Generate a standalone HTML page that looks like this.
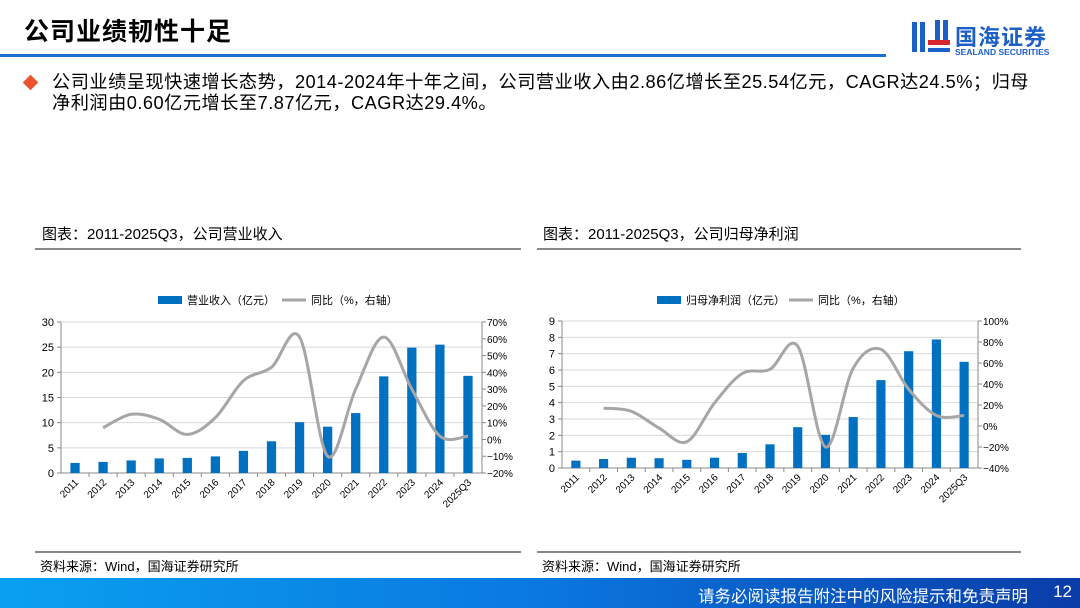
<!DOCTYPE html>
<html><head><meta charset="utf-8">
<style>
*{margin:0;padding:0;box-sizing:border-box}
body{width:1080px;height:608px;position:relative;background:#fff;font-family:"Liberation Sans","Noto Sans CJK SC",sans-serif;overflow:hidden;color:#000}
.abs{position:absolute}
</style></head><body>
<div class="abs" style="left:24px;top:12px;font-size:25px;font-weight:bold;letter-spacing:1px">公司业绩韧性十足</div>
<div class="abs" style="left:0;top:54px;width:886px;height:3px;background:#1a6fd0"></div>
<div class="abs" style="left:910px;top:18px;width:160px;height:42px">
 <svg width="40" height="40" style="position:absolute;left:0;top:0">
  <rect x="2" y="4" width="5" height="30" fill="#1c5fc8"/><rect x="10" y="4" width="5" height="30" fill="#1c5fc8"/>
  <rect x="25" y="2" width="5" height="20" fill="#1c5fc8"/><rect x="33" y="2" width="5" height="20" fill="#1c5fc8"/>
  <rect x="18" y="22" width="22" height="5" fill="#d9262c"/><rect x="18" y="30" width="22" height="4" fill="#1c5fc8"/>
 </svg>
 <div class="abs" style="left:45px;top:2px;font-size:22px;font-weight:bold;color:#1c5fc8;letter-spacing:1px">国海证券</div>
 <div class="abs" style="left:45px;top:29px;font-size:8.5px;font-weight:bold;color:#1c5fc8;white-space:nowrap">SEALAND SECURITIES</div>
</div>
<div class="abs" style="left:25px;top:77px;width:11px;height:11px;background:#e8542b;transform:rotate(45deg)"></div>
<div class="abs" style="left:52px;top:72px;width:1020px;font-size:18.2px;line-height:21px;letter-spacing:0.5px;white-space:nowrap">公司业绩呈现快速增长态势，2014-2024年十年之间，公司营业收入由2.86亿增长至25.54亿元，CAGR达24.5%；归母<br>净利润由0.60亿元增长至7.87亿元，CAGR达29.4%。</div>

<div class="abs" style="left:42px;top:223px;font-size:15px">图表：2011-2025Q3，公司营业收入</div>
<div class="abs" style="left:35px;top:248px;width:486px;height:2px;background:#888"></div>
<div class="abs" style="left:543px;top:223px;font-size:15px">图表：2011-2025Q3，公司归母净利润</div>
<div class="abs" style="left:537px;top:248px;width:484px;height:2px;background:#888"></div>

<svg id="c1" class="abs" style="left:0;top:0" width="1080" height="608"></svg>
<svg id="c2" class="abs" style="left:0;top:0" width="1080" height="608"></svg>

<div class="abs" style="left:35px;top:551px;width:486px;height:2px;background:#888"></div>
<div class="abs" style="left:537px;top:551px;width:484px;height:2px;background:#888"></div>
<div class="abs" style="left:40px;top:556px;font-size:13px">资料来源：Wind，国海证券研究所</div>
<div class="abs" style="left:542px;top:556px;font-size:13px">资料来源：Wind，国海证券研究所</div>

<div class="abs" style="left:0;top:578px;width:1080px;height:30px;background:linear-gradient(90deg,#0aa0f0 0%,#0a78e0 50%,#0a3ca8 100%)">
 <div class="abs" style="right:52px;top:5px;color:#fff;font-size:16.5px">请务必阅读报告附注中的风险提示和免责声明</div>
 <div class="abs" style="right:8px;top:4px;color:#fff;font-size:17px">12</div>
</div>

<script>
const categories = ["2011","2012","2013","2014","2015","2016","2017","2018","2019","2020","2021","2022","2023","2024","2025Q3"];
const revenueValues = [2.0,2.2,2.5,2.9,3.0,3.3,4.4,6.3,10.1,9.2,11.9,19.2,24.9,25.5,19.3];
const revenueGrowth = [null,7,15,12,3,13,35,43,61,-10,30,61,30,2,2];
const revenueLeftTicks = [0,5,10,15,20,25,30];
const revenueRightTicks = [-20,-10,0,10,20,30,40,50,60,70];
const profitValues = [0.45,0.55,0.63,0.6,0.5,0.63,0.92,1.45,2.5,2.03,3.12,5.38,7.15,7.87,6.5];
const profitGrowth = [null,17,14,-2,-15,22,50,54,76,-20,55,73,35,10,10];
const profitLeftTicks = [0,1,2,3,4,5,6,7,8,9];
const profitRightTicks = [-40,-20,0,20,40,60,80,100];

const NS="http://www.w3.org/2000/svg";
function mk(svg,tag,attrs,text){const e=document.createElementNS(NS,tag);for(const k in attrs)e.setAttribute(k,attrs[k]);if(text!==undefined)e.textContent=text;svg.appendChild(e);return e;}

function draw(id,cfg){
 const svg=document.getElementById(id);
 const {x0,x1,yTop,yBot,lt,rt,vals,growth,legendName,legendX,lineLegendX}=cfg;
 const lmin=lt[0],lmax=lt[lt.length-1],rmin=rt[0],rmax=rt[rt.length-1];
 const yL=v=>yBot-(v-lmin)/(lmax-lmin)*(yBot-yTop);
 const yR=v=>yBot-(v-rmin)/(rmax-rmin)*(yBot-yTop);
 const band=(x1-x0)/categories.length;
 const xC=i=>x0+band*(i+0.5);
 lt.forEach(t=>{
  if(t!==lmin){const g=mk(svg,'line',{x1:x0,x2:x1,y1:yL(t),y2:yL(t),stroke:'#d9d9d9','stroke-width':1});
  
  }
  const tx=mk(svg,'text',{x:x0-7,y:yL(t)+4,'text-anchor':'end','font-size':11,'font-family':'Liberation Sans'},String(t));
  
  
 });
 rt.forEach(t=>{
  const tx=mk(svg,'text',{x:x1+5,y:yR(t)+4,'font-size':10,'font-family':'Liberation Sans'},(t<0?'−':'')+Math.abs(t)+'%');
  
  
  mk(svg,'line',{x1:x1,x2:x1+4,y1:yR(t),y2:yR(t),stroke:'#888'});
 });
 lt.forEach(t=>mk(svg,'line',{x1:x0-4,x2:x0,y1:yL(t),y2:yL(t),stroke:'#888'}));
 mk(svg,'line',{x1:x0,x2:x0,y1:yTop,y2:yBot,stroke:'#888'});
 mk(svg,'line',{x1:x1,x2:x1,y1:yTop,y2:yBot,stroke:'#888'});
 mk(svg,'line',{x1:x0,x2:x1,y1:yBot,y2:yBot,stroke:'#888'});
 const bw=band*0.33;
 vals.forEach((v,i)=>{
  const r=mk(svg,'rect',{x:xC(i)-bw/2,y:yL(v),width:bw,height:yBot-yL(v),fill:'#0070c0'});
  
  
  if(i>0)mk(svg,'line',{x1:x0+band*i,x2:x0+band*i,y1:yBot,y2:yBot+4,stroke:'#888'});
  const tx=mk(svg,'text',{x:xC(i)+4,y:yBot+10,'text-anchor':'end','font-size':10,'font-family':'Liberation Sans',transform:`rotate(-45 ${xC(i)+4} ${yBot+10})`},categories[i]);
  
  
 });
 const pts=[];growth.forEach((g,i)=>{if(g!==null)pts.push([xC(i),yR(g)]);});
 let d='M'+pts[0][0]+','+pts[0][1];
 for(let i=0;i<pts.length-1;i++){
  const p0=pts[i-1]||pts[i],p1=pts[i],p2=pts[i+1],p3=pts[i+2]||p2;
  const c1=[p1[0]+(p2[0]-p0[0])/6,p1[1]+(p2[1]-p0[1])/6];
  const c2=[p2[0]-(p3[0]-p1[0])/6,p2[1]-(p3[1]-p1[1])/6];
  d+=` C${c1[0]},${c1[1]} ${c2[0]},${c2[1]} ${p2[0]},${p2[1]}`;
 }
 const ln=mk(svg,'path',{d:d,fill:'none',stroke:'#a6a6a6','stroke-width':3,'stroke-linejoin':'round'});
 
 
 const ly=300;
 const lb=mk(svg,'rect',{x:legendX,y:ly-4,width:24,height:8,fill:'#0070c0'});
 
 
 const lt1=mk(svg,'text',{x:legendX+29,y:ly+4,'font-size':11,'font-family':'Liberation Sans, Noto Sans CJK SC, sans-serif'},legendName);
 
 
 const lx=lineLegendX;
 mk(svg,'line',{x1:lx,x2:lx+24,y1:ly,y2:ly,stroke:'#a6a6a6','stroke-width':3});
 const lt2=mk(svg,'text',{x:lx+29,y:ly+4,'font-size':11,'font-family':'Liberation Sans, Noto Sans CJK SC, sans-serif'},'同比（%，右轴）');
 
 
}
draw('c1',{x0:61,x1:482,yTop:322,yBot:473,lt:revenueLeftTicks,rt:revenueRightTicks,vals:revenueValues,growth:revenueGrowth,legendName:'营业收入（亿元）',legendX:158,lineLegendX:282});
draw('c2',{x0:562,x1:978,yTop:321,yBot:468,lt:profitLeftTicks,rt:profitRightTicks,vals:profitValues,growth:profitGrowth,legendName:'归母净利润（亿元）',legendX:657,lineLegendX:789});
</script>
</body></html>
